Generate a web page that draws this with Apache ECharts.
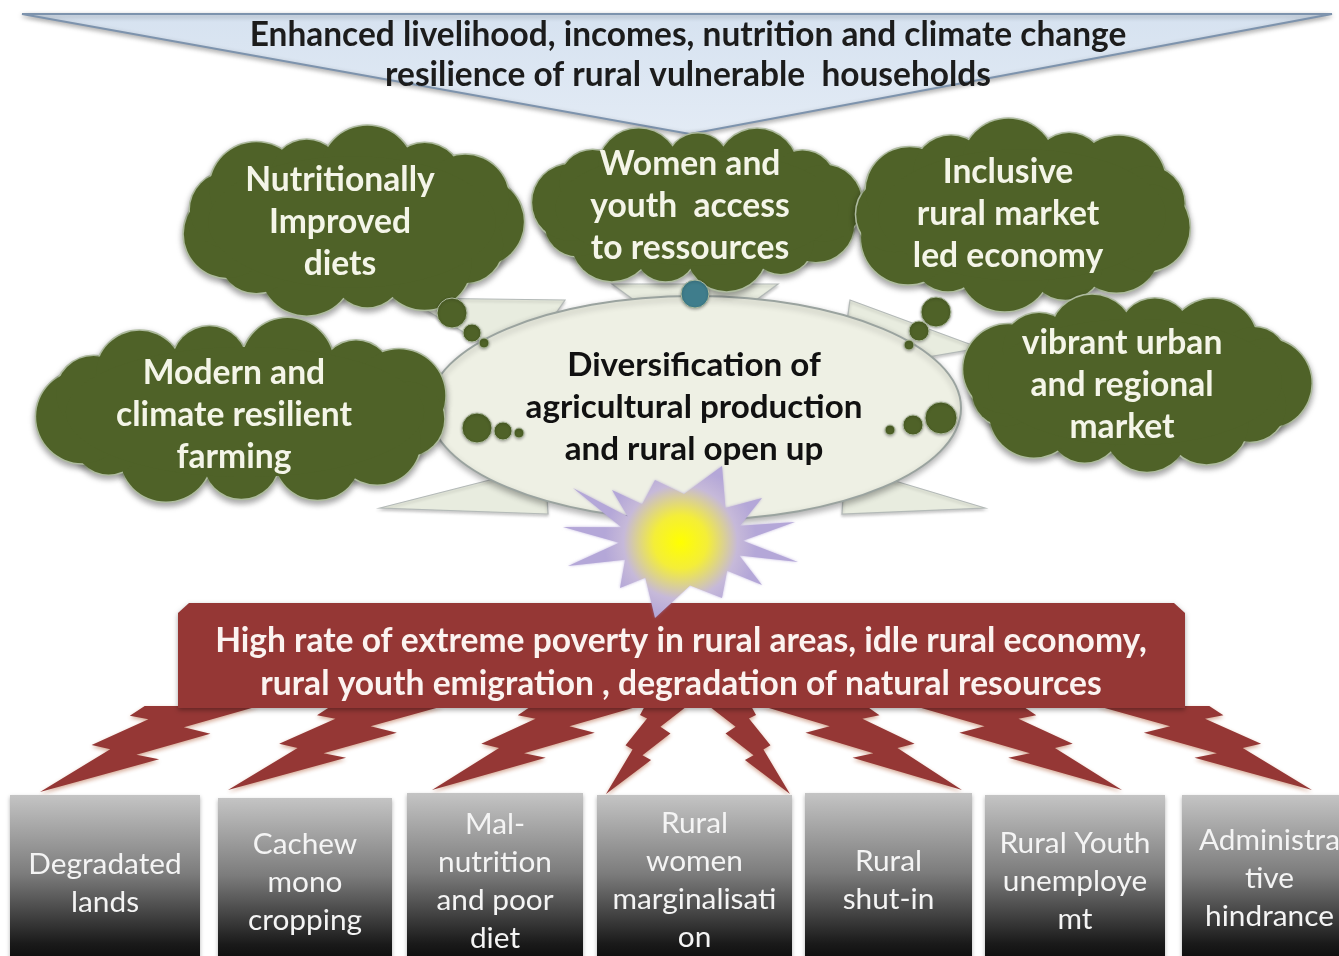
<!DOCTYPE html>
<html>
<head>
<meta charset="utf-8">
<title>Problem / solution tree</title>
<script src="https://cdn.jsdelivr.net/npm/echarts@6/dist/echarts.min.js"></script>
<style>
  html, body { margin: 0; padding: 0; background: #fff; }
  #chart { width: 1339px; height: 956px; }
</style>
</head>
<body>
<div id="chart"></div>
<script>
// ---- content ----
const goalLines = ["Enhanced livelihood, incomes, nutrition and climate change", "resilience of rural vulnerable  households"];
const outcomeLabels = [
    "Nutritionally\nImproved\ndiets",
    "Women and\nyouth  access\nto ressources",
    "Inclusive\nrural market\nled economy",
    "Modern and\nclimate resilient\nfarming",
    "vibrant urban\nand regional\nmarket",
];
const coreLabel = "Diversification of\nagricultural production\nand rural open up";
const problemLines = ["High rate of extreme poverty in rural areas, idle rural economy,", "rural youth emigration , degradation of natural resources"];
const causeLabels = [
    "Degradated\nlands",
    "Cachew\nmono\ncropping",
    "Mal-\nnutrition\nand poor\ndiet",
    "Rural\nwomen\nmarginalisati\non",
    "Rural\nshut-in",
    "Rural Youth\nunemploye\nmt",
    "Administra\ntive\nhindrance",
];

// ---- layout, in the 1339 x 956 page space ----
const goalTriangle = [[22, 14], [1332, 14], [690, 134]];
const goalTextAt = [688, 55];
const wedges = [
    [[405, 298], [565, 300], [520, 365]],
    [[612, 284], [778, 284], [695, 345]],
    [[850, 300], [980, 348], [840, 372]],
    [[380, 508], [545, 466], [548, 514]],
    [[985, 508], [845, 466], [842, 514]],
];
const coreEllipse = [695, 408, 266, 112];
const cloudLayout = [
    [352, 222, 172, 94],
    [697, 208, 166, 82],
    [1022, 215, 172, 94],
    [245, 412, 207, 93],
    [1135, 382, 174, 90],
];
const cloudTextAt = [[340, 222], [690, 206], [1008, 214], [234, 415], [1122, 385]];
const bubbles = [
    [452, 313, 15, 0], [472, 333, 9, 0], [484, 343, 5, 0],
    [695, 294, 14, 1],
    [936, 312, 15, 0], [919, 331, 10, 0], [909, 345, 5, 0],
    [477, 428, 15, 0], [503, 431, 9, 0], [519, 433, 5, 0],
    [941, 418, 16, 0], [913, 425, 10, 0], [890, 430, 5, 0],
];
const starCenter = [681, 540];
const starTips = [
    [655, 480], [722, 466], [762, 498], [795, 522], [798, 562], [762, 585], [722, 598],
    [655, 618], [620, 588], [568, 566], [563, 527], [573, 488], [612, 490],
];
const banner = [178, 603, 1185, 708];
const bannerTextAt = [681, 663];
// x, y, width, height, direction (-1 = tip to the left); tops tuck under the banner
const bolts = [
    [40, 686, 222, 106, -1], [228, 686, 220, 104, -1], [432, 686, 212, 104, -1], [606, 684, 84, 110, -1],
    [706, 684, 84, 110, 1], [758, 686, 204, 104, 1], [910, 686, 212, 104, 1], [1093, 686, 219, 104, 1],
];
const boxes = [
    [10, 795, 190], [218, 798, 174], [407, 793, 176], [597, 795, 195],
    [805, 793, 167], [985, 795, 180], [1182, 795, 175],
];
const boxTextY = [883, 882, 881, 880, 880, 881, 878];

// ---- styles ----
const FONT = "Lato";
const cloudFill = "#4f6228";
const cloudEdge = "#aebb9f";
const red = "#953735";
const boltPath = [[8472, 0], [12860, 6080], [11050, 6797], [16577, 12007], [14767, 12877], [21600, 21600],
    [10012, 14915], [12222, 13987], [5022, 9705], [7602, 8382], [0, 3890]];

const measureCtx = document.createElement("canvas").getContext("2d");
function fitSize(line, width, weight) {
    measureCtx.font = weight + " 100px " + FONT;
    return (100 * width) / measureCtx.measureText(line).width;
}
const goalSize = fitSize(goalLines[0], 877, "bold");
const problemSize = fitSize(problemLines[0], 932, "bold");
const coreSize = fitSize("agricultural production", 337, "bold");
const cloudSize = fitSize("climate resilient", 236, "bold");
const boxSize = fitSize("marginalisati", 164, "normal");

const chart = echarts.init(document.getElementById("chart"), null, { renderer: "canvas" });

const P = (api, p) => api.coord(p);
const text = (api, str, at, size, weight, color, lineHeight) => {
    const c = P(api, at);
    return {
        type: "text",
        silent: true,
        style: {
            text: str, x: c[0], y: c[1], fill: color,
            fontSize: size, fontWeight: weight, fontFamily: FONT,
            align: "center", verticalAlign: "middle", lineHeight: lineHeight,
        },
    };
};

function layer(z, data, renderItem) {
    return {
        type: "custom",
        coordinateSystem: "cartesian2d",
        data: data.map((d, i) => [i]),
        silent: true,
        clip: false,
        animation: false,
        z: z,
        renderItem: renderItem,
    };
}

function cloudPuffs(c, idx) {
    const [cx, cy, rx, ry] = c;
    const n = 13;
    const r0 = ry * 0.47;
    const out = [];
    for (let k = 0; k < n; k++) {
        const a = (2 * Math.PI * k) / n + idx * 0.37;
        const r = r0 * (k % 2 ? 0.86 : 1.06) * (k % 3 ? 1 : 0.94);
        out.push([cx + (rx - r0) * Math.cos(a), cy + (ry - r0) * Math.sin(a), r]);
    }
    return out;
}

function starPoints() {
    const [cx, cy] = starCenter;
    const ang = starTips.map((t) => Math.atan2(t[1] - cy, t[0] - cx));
    const pts = [];
    starTips.forEach((t, i) => {
        pts.push(t);
        let a0 = ang[i], a1 = ang[(i + 1) % starTips.length];
        if (a1 < a0) a1 += 2 * Math.PI;
        const m = (a0 + a1) / 2;
        pts.push([cx + 62 * Math.cos(m), cy + 46 * Math.sin(m)]);
    });
    return pts;
}

// keep only the part of a polygon below yMin (bolts start under the banner)
function clipBelow(pts, yMin) {
    const out = [];
    for (let i = 0; i < pts.length; i++) {
        const a = pts[i], b = pts[(i + 1) % pts.length];
        const ina = a[1] >= yMin, inb = b[1] >= yMin;
        if (ina) out.push(a);
        if (ina !== inb) {
            const t = (yMin - a[1]) / (b[1] - a[1]);
            out.push([a[0] + t * (b[0] - a[0]), yMin]);
        }
    }
    return out;
}

const series = [
    // goal triangle
    layer(1, [0], (params, api) => ({
        type: "group",
        children: [
            {
                type: "polygon",
                shape: { points: goalTriangle.map((p) => P(api, p)) },
                style: {
                    fill: { type: "linear", x: 0, y: 0, x2: 0, y2: 1, colorStops: [
                        { offset: 0, color: "#d6e2f0" }, { offset: 1, color: "#e3ebf5" }] },
                    stroke: "#7d93ad", lineWidth: 2,
                    shadowBlur: 5, shadowColor: "rgba(0,0,0,0.3)", shadowOffsetY: 2,
                },
            },
            text(api, goalLines.join("\n"), goalTextAt, goalSize, "bold", "#1c1c1c", 40),
        ],
    })),
    // pale wedges radiating from the core
    layer(2, wedges, (params, api) => ({
        type: "polygon",
        shape: { points: wedges[params.dataIndex].map((p) => P(api, p)) },
        style: {
            fill: "#e8ecdf", stroke: "#b4bab8", lineWidth: 1.2,
            shadowBlur: 3, shadowColor: "rgba(0,0,0,0.2)", shadowOffsetY: 2,
        },
    })),
    // core ellipse
    layer(3, [0], (params, api) => {
        const c = P(api, coreEllipse.slice(0, 2));
        const s = api.size([coreEllipse[2], coreEllipse[3]]);
        return {
            type: "group",
            children: [
                {
                    type: "ellipse",
                    shape: { cx: c[0], cy: c[1], rx: s[0], ry: s[1] },
                    style: {
                        fill: "#eef0e4", stroke: "#9aa39f", lineWidth: 2,
                        shadowBlur: 6, shadowColor: "rgba(0,0,0,0.3)", shadowOffsetY: 3,
                    },
                },
                text(api, coreLabel, [694, 407], coreSize, "bold", "#111", 42),
            ],
        };
    }),
    // clouds
    layer(4, cloudLayout, (params, api) => {
        const i = params.dataIndex;
        const c = cloudLayout[i];
        const puffs = cloudPuffs(c, i);
        const circ = (p, withEdge) => {
            const q = P(api, [p[0], p[1]]);
            const r = api.size([p[2], p[2]])[0];
            return {
                type: "circle",
                shape: { cx: q[0], cy: q[1], r: r },
                style: withEdge
                    ? { fill: cloudFill, stroke: cloudEdge, lineWidth: 3,
                        shadowBlur: 6, shadowColor: "rgba(0,0,0,0.35)", shadowOffsetY: 3 }
                    : { fill: cloudFill },
            };
        };
        const cc = P(api, [c[0], c[1]]);
        const cs = api.size([c[2] - c[3] * 0.3, c[3] * 0.7]);
        return {
            type: "group",
            children: [
                ...puffs.map((p) => circ(p, true)),
                ...puffs.map((p) => circ(p, false)),
                { type: "ellipse", shape: { cx: cc[0], cy: cc[1], rx: cs[0], ry: cs[1] }, style: { fill: cloudFill } },
                text(api, outcomeLabels[i], cloudTextAt[i], cloudSize, "bold", "#f4f5e8", 42),
            ],
        };
    }),
    // thought bubbles
    layer(5, bubbles, (params, api) => {
        const b = bubbles[params.dataIndex];
        const q = P(api, [b[0], b[1]]);
        return {
            type: "circle",
            shape: { cx: q[0], cy: q[1], r: api.size([b[2], b[2]])[0] },
            style: {
                fill: b[3] ? "#3f7d8c" : cloudFill, stroke: cloudEdge, lineWidth: 1,
                shadowBlur: 3, shadowColor: "rgba(0,0,0,0.3)", shadowOffsetY: 1,
            },
        };
    }),
    // lightning bolts
    layer(6, bolts, (params, api) => {
        const [x, y, w, h, dir] = bolts[params.dataIndex];
        const raw = boltPath.map(([u, v]) => {
            const fx = dir > 0 ? u / 21600 : 1 - u / 21600;
            return [x + fx * w, y + (v / 21600) * h];
        });
        return {
            type: "polygon",
            shape: { points: clipBelow(raw, banner[3] - 2).map((p) => P(api, p)) },
            style: { fill: red, shadowBlur: 4, shadowColor: "rgba(170,80,40,0.5)", shadowOffsetY: 2 },
        };
    }),
    // problem banner
    layer(7, [0], (params, api) => {
        const [x0, y0, x1, y1] = banner;
        const pts = [[x0, y0 + 10], [x0 + 11, y0], [x1 - 11, y0], [x1, y0 + 10], [x1, y1], [x0, y1]].map((p) => P(api, p));
        return {
            type: "group",
            children: [
                {
                    type: "polygon",
                    shape: { points: pts },
                    style: { fill: red, shadowBlur: 5, shadowColor: "rgba(0,0,0,0.35)", shadowOffsetY: 2 },
                },
                text(api, problemLines.join("\n"), bannerTextAt, problemSize, "bold", "#fbf3f0", 43),
            ],
        };
    }),
    // starburst
    layer(8, [0], (params, api) => ({
        type: "polygon",
        shape: { points: starPoints().map((p) => P(api, p)) },
        style: {
            fill: { type: "radial", x: 0.5, y: 0.5, r: 0.5, colorStops: [
                { offset: 0, color: "#ffff00" }, { offset: 0.35, color: "#f4ee38" },
                { offset: 0.75, color: "#c6b9d9" }, { offset: 1, color: "#b4a7d8" }] },
            shadowBlur: 3, shadowColor: "rgba(150,130,200,0.6)",
        },
    })),
    // cause boxes
    layer(9, boxes, (params, api) => {
        const i = params.dataIndex;
        const [x, y, w] = boxes[i];
        const tl = P(api, [x, y]);
        const s = api.size([w, 970 - y]);
        return {
            type: "group",
            children: [
                {
                    type: "rect",
                    shape: { x: tl[0], y: tl[1], width: s[0], height: s[1] },
                    style: {
                        fill: { type: "linear", x: 0, y: 0, x2: 0, y2: 1, colorStops: [
                            { offset: 0, color: "#c4c4c4" }, { offset: 0.45, color: "#7c7c7c" },
                            { offset: 0.85, color: "#1a1a1a" }, { offset: 1, color: "#050505" }] },
                        shadowBlur: 4, shadowColor: "rgba(0,0,0,0.3)", shadowOffsetY: 2,
                    },
                },
                text(api, causeLabels[i], [x + w / 2, boxTextY[i]], boxSize, "normal", "#f4f4f4", 38),
            ],
        };
    }),
];

chart.setOption({
    animation: false,
    grid: { left: 0, right: 0, top: 0, bottom: 0 },
    xAxis: { type: "value", min: 0, max: 1339, show: false },
    yAxis: { type: "value", min: 0, max: 956, inverse: true, show: false },
    series: series,
});
</script>
</body>
</html>
